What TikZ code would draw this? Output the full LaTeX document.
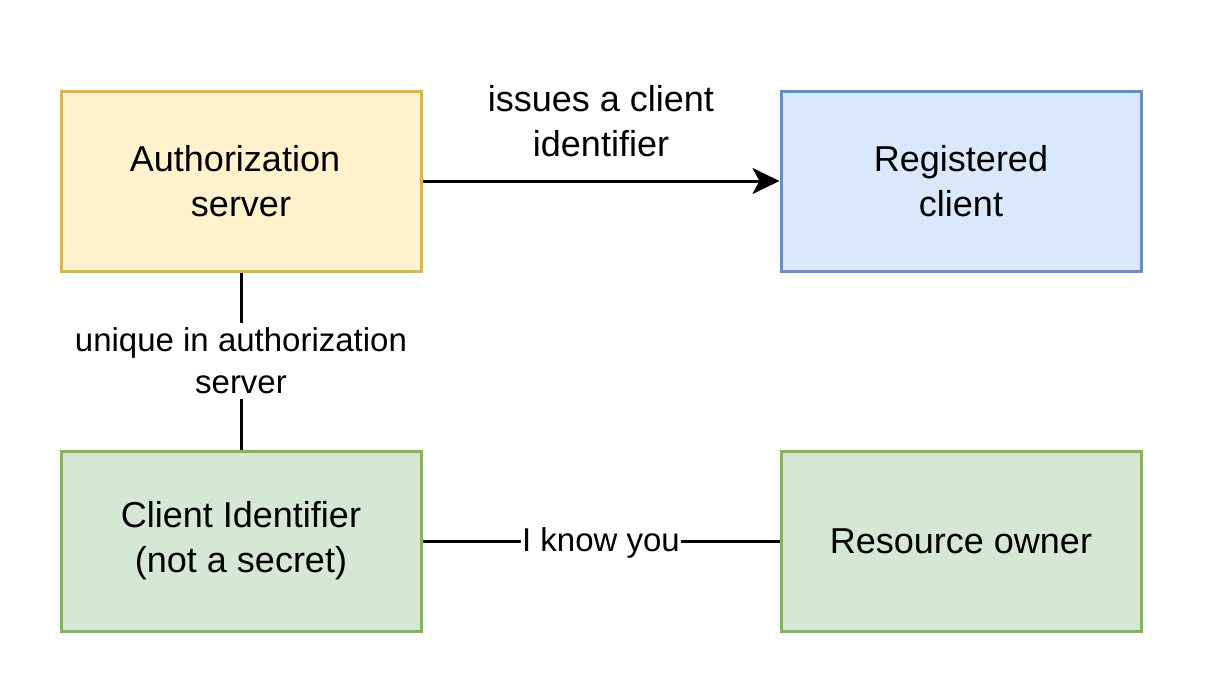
\documentclass[tikz,border=0pt]{standalone}
\usepackage{fontspec}
\setmainfont{Liberation Sans}
\usetikzlibrary{arrows.meta}
\definecolor{yfill}{HTML}{FFF2CC}\definecolor{ystroke}{HTML}{D6B656}
\definecolor{bfill}{HTML}{DAE8FC}\definecolor{bstroke}{HTML}{6C8EBF}
\definecolor{gfill}{HTML}{D5E8D4}\definecolor{gstroke}{HTML}{82B366}
\tikzset{
  box/.style={draw, line width=3pt, minimum width=360pt, minimum height=180pt, align=center, inner sep=0pt, font=\fontsize{36}{45}\selectfont},
  yellowbox/.style={box, fill=yfill, draw=ystroke},
  bluebox/.style={box, fill=bfill, draw=bstroke},
  greenbox/.style={box, fill=gfill, draw=gstroke},
  conn/.style={line width=3pt},
  lbl/.style={fill=white, align=center, inner xsep=1.5pt, inner ysep=1.5pt, font=\fontsize{33}{42}\selectfont},
  toplbl/.style={align=center, inner sep=0pt, font=\fontsize{36}{45}\selectfont}
}
\begin{document}
\begin{tikzpicture}[x=1pt,y=-1pt]
\useasboundingbox (0,0) rectangle (1206,696);
\node[yellowbox] (auth) at (241,181) {\hspace*{-12pt}Authorization\\server};
\node[bluebox] (reg) at (961,181) {Registered\\client};
\node[greenbox] (cid) at (241,541) {Client Identifier\\(not a secret)};
\node[greenbox] (own) at (961,541) {Resource owner};
\draw[conn, -{Stealth[length=27pt,width=26pt,inset=7pt]}] (auth) -- (reg);
\node[toplbl] (issues) at (601,121) {issues a client\\identifier};
\draw[conn] (auth) -- node[lbl, inner xsep=0pt, inner ysep=5pt] (uniq) {unique in authorization\\server} (cid);
\draw[conn] (cid) -- node[lbl, yshift=-2pt] (know) {I know you} (own);
\end{tikzpicture}
\end{document}
